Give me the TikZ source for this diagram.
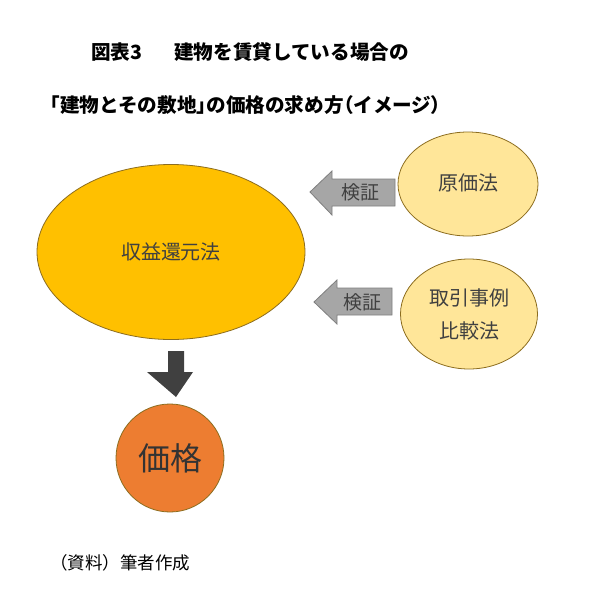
\documentclass[tikz,border=0pt]{standalone}
\usepackage{fontspec}
\setmainfont{Noto Sans CJK JP}
\newfontfamily\cjk{Noto Sans CJK JP}
\newcommand{\pbr}[1]{{\addfontfeature{RawFeature=+palt}#1}}
\usetikzlibrary{shapes.geometric}
\definecolor{mainfill}{HTML}{FFC000}
\definecolor{lightfill}{HTML}{FFE699}
\definecolor{pricefill}{HTML}{ED7D31}
\definecolor{edgecol}{HTML}{8C6D1F}
\definecolor{txtcol}{HTML}{404040}
\definecolor{arrfill}{HTML}{A6A6A6}
\definecolor{arredge}{HTML}{7F7F7F}
\tikzset{
  oval/.style={ellipse, draw=edgecol, line width=0.8pt, inner sep=0pt, text=txtcol, align=center},
  titletext/.style={anchor=west, inner sep=0pt, font=\cjk\bfseries\fontsize{19.6}{22}\selectfont},
  lbl/.style={inner sep=0pt, text=txtcol, font=\cjk\fontsize{20}{33}\selectfont, align=center},
  garrow/.style={fill=arrfill, draw=arredge, line width=0.8pt},
}
\begin{document}
\begin{tikzpicture}[x=1pt,y=-1pt]
\useasboundingbox (0,0) rectangle (599,606);
\fill[white] (0,0) rectangle (599,606);
% title
\node[titletext] (t1) at (91,52) {図表3};
\node[titletext] (t2) at (174,52) {建物を賃貸している場合の};
\node[titletext] (t3) at (50,105) {\pbr{「}建物とその敷地\pbr{」}の価格の求め方\pbr{（}イメージ\pbr{）}};
% main ellipse
\node[oval, fill=mainfill, minimum width=268pt, minimum height=175pt] (main) at (171,252) {};
\node[lbl] (mainlbl) at (171,252) {収益還元法};
% right ellipses
\node[oval, fill=lightfill, minimum width=140pt, minimum height=104pt] (cost) at (468,184) {};
\node[lbl] (costlbl) at (468,183) {原価法};
\node[oval, fill=lightfill, minimum width=137pt, minimum height=110pt] (comp) at (469,314) {};
\node[lbl] (complbl) at (469,314) {取引事例\\比較法};
% price circle
\node[circle, draw=edgecol, line width=0.8pt, fill=pricefill, minimum size=108pt, inner sep=0pt] (price) at (170,458) {};
\node[inner sep=0pt, text=black!80, font=\cjk\fontsize{32}{36}\selectfont] (pricelbl) at (170,458) {価格};
% down arrow
\fill[txtcol] (168,351) -- (184,351) -- (184,372) -- (193,372) -- (176,397) -- (147,372) -- (168,372) -- cycle;
% grey arrows
\draw[garrow] (310,192) -- (332,171) -- (332,179) -- (395,179) -- (395,206) -- (332,206) -- (332,215) -- cycle;
\node[lbl, font=\cjk\fontsize{19}{22}\selectfont] (v1) at (360,192) {検証};
\draw[garrow] (314,302) -- (337,280) -- (337,288) -- (392,288) -- (392,315) -- (337,315) -- (337,324) -- cycle;
\node[lbl, font=\cjk\fontsize{19}{22}\selectfont] (v2) at (362,302) {検証};
% footer
\node[anchor=west, inner sep=0pt, font=\cjk\fontsize{17.5}{20}\selectfont] (src) at (50,563) {（資料）筆者作成};
\end{tikzpicture}
\end{document}
